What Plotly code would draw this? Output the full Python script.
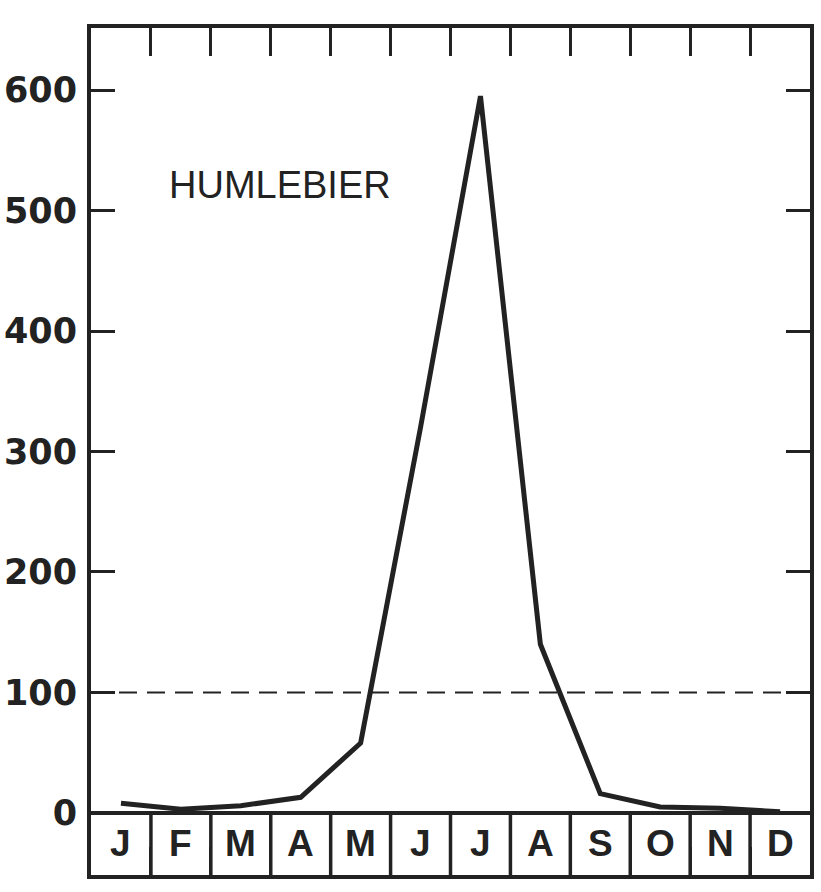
import plotly.graph_objects as go

# Monthly values
months = ["J", "F", "M", "A", "M", "J", "J", "A", "S", "O", "N", "D"]
values = [8, 3, 6, 13, 58, 320, 595, 140, 16, 5, 4, 1]
y_ticks = [0, 100, 200, 300, 400, 500, 600]
ref_level = 100
label = "HUMLEBIER"

ink = "#222222"
y_top = 651.5
box_h = 51.5  # height of the month strip below zero, in data units

x_idx = list(range(len(months)))

fig = go.Figure()

fig.add_trace(go.Scatter(
    x=x_idx, y=values, mode="lines",
    line=dict(color=ink, width=5),
    hoverinfo="skip", showlegend=False,
))

# dashed reference line at 100
fig.add_shape(type="line", xref="paper", x0=0, x1=1, y0=ref_level, y1=ref_level,
              line=dict(color=ink, width=2, dash="18px,10px"))

# month strip: top line, dividers, letters
fig.add_shape(type="line", x0=-0.5, x1=len(months) - 0.5, y0=0, y1=0,
              line=dict(color=ink, width=4))
for i in range(1, len(months)):
    fig.add_shape(type="line", x0=i - 0.5, x1=i - 0.5, y0=-box_h, y1=0,
                  line=dict(color=ink, width=3.5))
for i, m in enumerate(months):
    fig.add_annotation(x=i, y=-box_h / 2, text=m, showarrow=False,
                       font=dict(family="Liberation Sans", size=37, color=ink, weight="bold"))

fig.add_annotation(x=2.65, y=521, text=label, showarrow=False,
                   font=dict(family="Liberation Sans", size=38, color=ink))

fig.update_xaxes(
    range=[-0.5, len(months) - 0.5],
    tickvals=[i + 0.5 for i in range(len(months) - 1)],
    ticks="inside", ticklen=28, tickwidth=2.5, tickcolor=ink,
    showticklabels=False, showgrid=False, zeroline=False, automargin=False,
    showline=True, linewidth=4, linecolor=ink, mirror="ticks",
)
fig.update_yaxes(
    range=[-box_h, y_top],
    tickvals=y_ticks, ticktext=[str(v) for v in y_ticks],
    ticks="inside", ticklen=24, tickwidth=2.5, tickcolor=ink,
    ticklabelstandoff=3, automargin=False,
    tickfont=dict(family="DejaVu Sans", size=35, color=ink, weight="bold"),
    showgrid=False, zeroline=False,
    showline=True, linewidth=4, linecolor=ink, mirror="ticks",
)

fig.update_layout(
    width=821, height=892,
    margin=dict(l=91, r=11, t=28, b=17),
    plot_bgcolor="white", paper_bgcolor="white",
)

fig.write_html("out.html", config={"displayModeBar": False},
               post_script="document.body.style.margin = '0';")
